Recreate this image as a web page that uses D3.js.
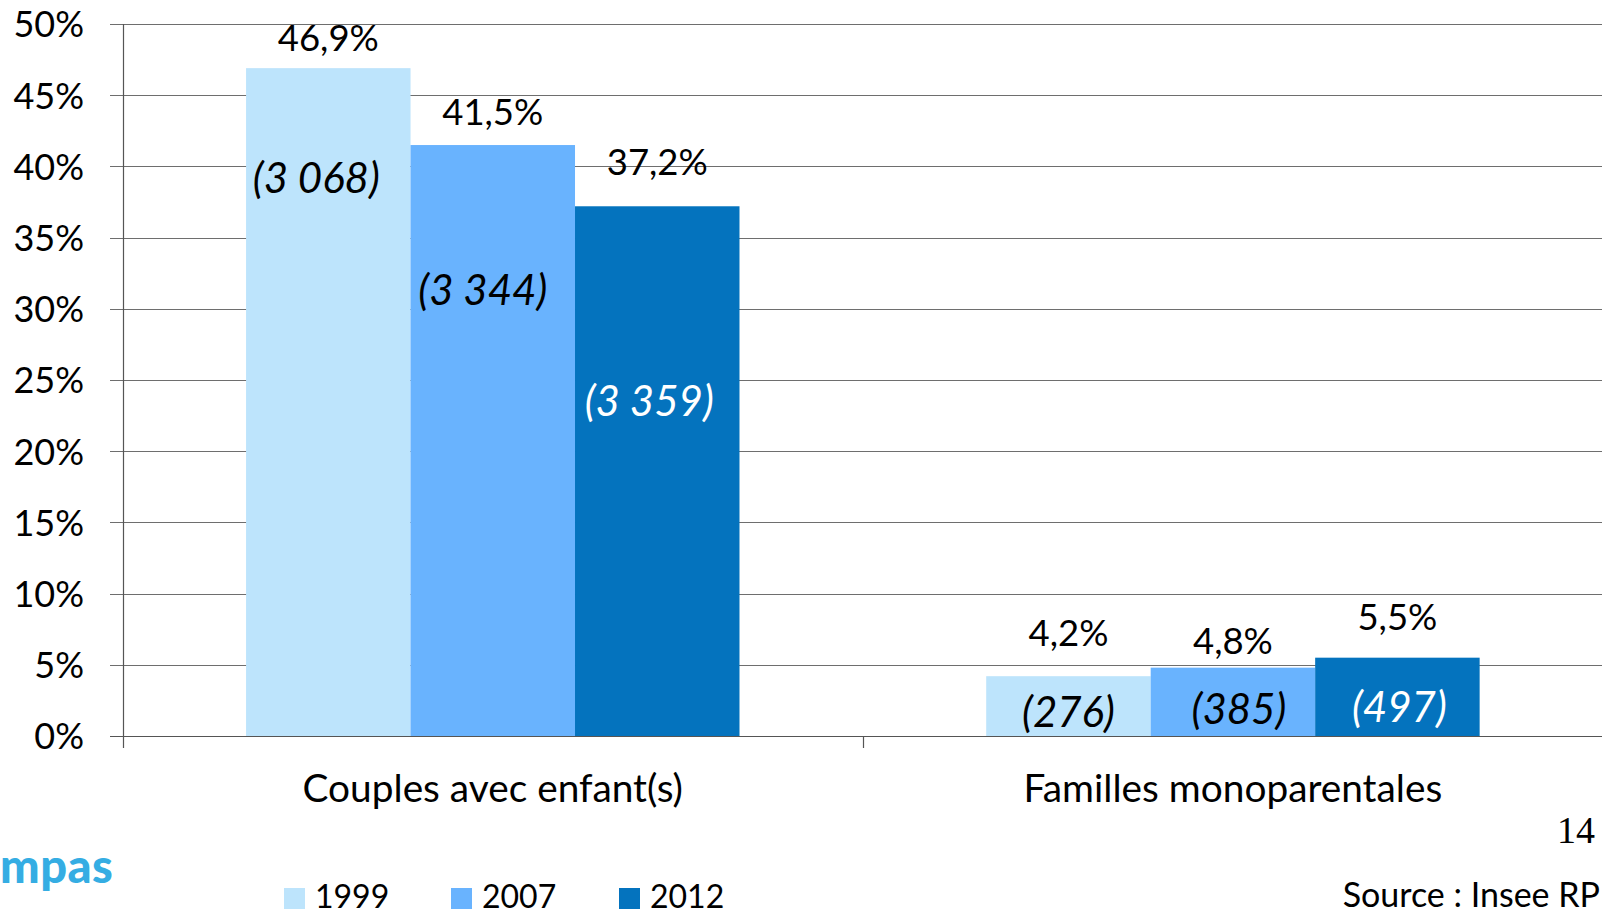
<!DOCTYPE html>
<html><head><meta charset="utf-8">
<script src="https://cdn.jsdelivr.net/npm/d3@7"></script>
<style>
html,body{margin:0;padding:0;background:#fff;overflow:hidden;}
svg{display:block;}
</style></head>
<body>
<svg id="chart" width="1602" height="916" font-family="Lato, 'Open Sans', sans-serif"></svg>
<script>
// ---- data ----
const categories = ["Couples avec enfant(s)", "Familles monoparentales"];
const years = ["1999", "2007", "2012"];
const share1999 = [46.9, 4.2];
const share2007 = [41.5, 4.8];
const share2012 = [37.2, 5.5];
const count1999 = [3068, 276];
const count2007 = [3344, 385];
const count2012 = [3359, 497];
const yTicks = [0, 5, 10, 15, 20, 25, 30, 35, 40, 45, 50];
const sourceText = "Source : Insee RP";
const pageNumber = "14";
const logoText = "mpas";

// ---- styles / layout ----
const colors = {"1999": "#BDE4FC", "2007": "#69B3FE", "2012": "#0473BE"};
const countColors = {"1999": "#000", "2007": "#000", "2012": "#fff"};
// gap (px) between bar top and value label baseline, per category / year
const valueGap = [[17, 20, 31], [30, 14, 28]];
// baseline level (in % units) of the italic count labels
const countLevel = [[38.1, 30.3, 22.5], [0.65, 0.85, 1.0]];
const countDx = [[-12, -10, -8], [0, 6, 2]];

const shares = [share1999, share2007, share2012];
const counts = [count1999, count2007, count2012];
const rows = [];
categories.forEach((c, ci) => years.forEach((yr, yi) => rows.push({
  cat: c, ci, year: yr, yi, value: shares[yi][ci], count: counts[yi][ci]
})));

const fr = d3.formatLocale({decimal: ",", thousands: "\u00a0", grouping: [3], currency: ["", " €"]});
const fmtPct = v => fr.format(".1f")(v) + "%";
const fmtCount = v => "(" + fr.format(",d")(v) + ")";

const svg = d3.select("#chart");
const pLeft = 122.7, pRight = 1603, pTop = 24, pBottom = 736;

const x0 = d3.scaleBand().domain(categories).range([pLeft, pRight]).padding(0);
const bw = x0.bandwidth();
const barW = bw / 4.5;
const x1 = d3.scaleBand().domain(years).range([0.75 * barW, bw - 0.75 * barW]).padding(0);
const y = d3.scaleLinear().domain([0, 50]).range([pBottom, pTop]);

// gridlines (with tick extension to the left)
const grid = svg.append("g").attr("class", "grid");
grid.selectAll("line").data(yTicks).join("line")
  .attr("x1", 110).attr("x2", 1602)
  .attr("y1", d => Math.round(y(d)) + 0.5).attr("y2", d => Math.round(y(d)) + 0.5)
  .attr("stroke", "#6e6e6e").attr("stroke-width", 1.2);

// y tick labels
const yAxis = d3.axisLeft(y).tickValues(yTicks).tickFormat(d => d + "%").tickSize(0).tickPadding(0);
const ya = svg.append("g").attr("transform", `translate(84,0)`).call(yAxis)
  .attr("font-family", null).attr("font-size", null);
ya.select(".domain").remove();
ya.selectAll("text").attr("font-size", 36).attr("fill", "#000").attr("dy", "0.36em");

// bars
svg.append("g").selectAll("rect").data(rows).join("rect")
  .attr("x", d => x0(d.cat) + x1(d.year))
  .attr("width", x1.bandwidth())
  .attr("y", d => y(d.value))
  .attr("height", d => y(0) - y(d.value))
  .attr("fill", d => colors[d.year]);

// axis lines
svg.append("line").attr("x1", Math.round(pLeft) + 0.5).attr("x2", Math.round(pLeft) + 0.5)
  .attr("y1", pTop).attr("y2", 748).attr("stroke", "#555").attr("stroke-width", 1.2);
svg.append("line").attr("x1", 110).attr("x2", 1602)
  .attr("y1", Math.round(pBottom) + 0.5).attr("y2", Math.round(pBottom) + 0.5)
  .attr("stroke", "#555").attr("stroke-width", 1.2);
svg.append("g").selectAll("line").data(categories.slice(1)).join("line")
  .attr("x1", d => Math.round(x0(d)) + 0.5).attr("x2", d => Math.round(x0(d)) + 0.5)
  .attr("y1", pBottom).attr("y2", 748).attr("stroke", "#555").attr("stroke-width", 1.2);

// value labels
svg.append("g").selectAll("text").data(rows).join("text")
  .attr("x", d => x0(d.cat) + x1(d.year) + x1.bandwidth() / 2)
  .attr("y", d => y(d.value) - valueGap[d.ci][d.yi])
  .attr("text-anchor", "middle").attr("font-size", 36.5).attr("fill", "#000")
  .text(d => fmtPct(d.value));

// count labels
svg.append("g").selectAll("text").data(rows).join("text")
  .attr("x", d => x0(d.cat) + x1(d.year) + x1.bandwidth() / 2 + countDx[d.ci][d.yi])
  .attr("y", d => y(countLevel[d.ci][d.yi]))
  .attr("text-anchor", "middle").attr("font-size", 42).attr("font-style", "italic")
  .attr("fill", d => countColors[d.year])
  .text(d => fmtCount(d.count));

// category labels
svg.append("g").selectAll("text").data(categories).join("text")
  .attr("x", d => x0(d) + bw / 2).attr("y", 802)
  .attr("text-anchor", "middle").attr("font-size", 38.8).attr("fill", "#000")
  .text(d => d);

// legend
const lx = [284, 451, 619];
const leg = svg.append("g").selectAll("g").data(years).join("g")
  .attr("transform", (d, i) => `translate(${lx[i]},888)`);
leg.append("rect").attr("width", 21).attr("height", 21).attr("fill", d => colors[d]);
leg.append("text").attr("x", 31).attr("y", 20).attr("font-size", 32).attr("fill", "#000").text(d => d);

// page number & source
svg.append("text").attr("x", 1595).attr("y", 843).attr("text-anchor", "end")
  .style("font-family", "'Liberation Serif', 'Times New Roman', serif").attr("font-size", 38)
  .attr("fill", "#000").text(pageNumber);
svg.append("text").attr("x", 1600).attr("y", 907).attr("text-anchor", "end")
  .attr("font-size", 34).attr("fill", "#000").text(sourceText);

// logo fragment
svg.append("text").attr("x", 0).attr("y", 883).attr("font-size", 47).attr("font-weight", 900)
  .attr("letter-spacing", 0.5).attr("fill", "#35ADE3").text(logoText);
</script>
</body></html>
